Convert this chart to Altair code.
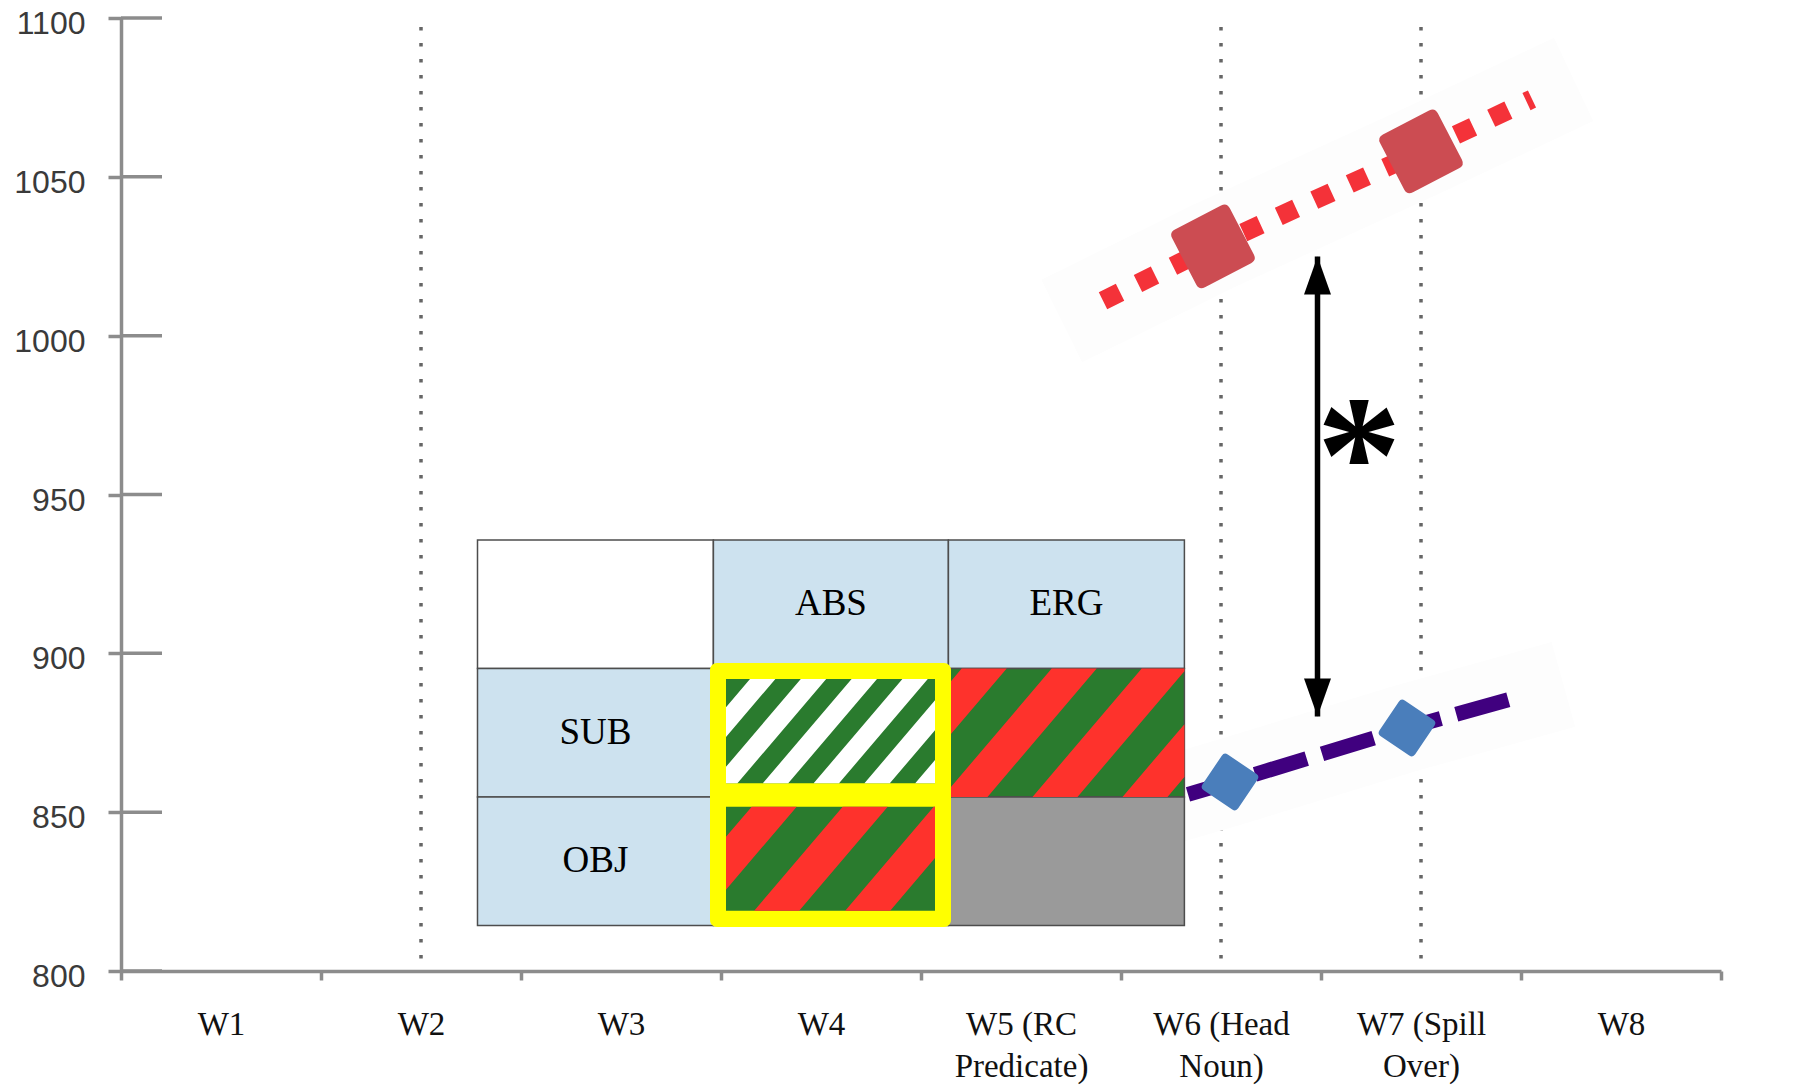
import altair as alt
import pandas as pd

# ---------------- data ----------------
WORDS = ["W1", "W2", "W3", "W4", "W5 (RC Predicate)", "W6 (Head Noun)", "W7 (Spill Over)", "W8"]
Y_TICKS = [800, 850, 900, 950, 1000, 1050, 1100]
DOTTED_AT = ["W2", "W6 (Head Noun)", "W7 (Spill Over)"]
DOTTED_TOP = 1097.2

# ERG condition (red): word position (1 = W1) and reading time (ms)
ERG_X = [5.41, 5.96, 7.0, 7.555]
ERG_Y = [1011.0, 1028.1, 1058.0, 1074.5]
ERG_MARK_X = [5.96, 7.0]
ERG_MARK_Y = [1028.1, 1058.0]

# ABS condition (blue / indigo)
ABS_X = [5.835, 6.045, 6.93, 7.5]
ABS_Y = [855.6, 859.5, 876.5, 886.5]
ABS_MARK_X = [6.045, 6.93]
ABS_MARK_Y = [859.5, 876.5]

ARROW_X = [6.4825]
ARROW_TOP = [1024.9]
ARROW_BOTTOM = [880.1]
STAR_TEXT = ["*"]
STAR_X = [6.69]
STAR_Y = [968.9]

TABLE_HEAD = ["", "ABS", "ERG"]
TABLE_ROWS = ["SUB", "OBJ"]
TABLE_X = [2.2825, 3.462, 4.637, 5.817]
TABLE_Y = [935.7, 895.2, 854.8, 814.3]
HIGHLIGHT_X = [3.445, 4.65]
HIGHLIGHT_Y = [813.85, 896.96]
INNER_X = [3.525, 4.57]
INNER_TOP_Y = [859.09, 891.93]
INNER_BOT_Y = [818.99, 851.73]

# ---------------- style ----------------
W, H = 1600, 953
XDOM = [0.5, 8.5]
YDOM = [800, 1100]
GRAY = "#8c8c8c"
LIGHTBLUE = "#cde2ef"
GREEN = "#2a7b2e"
RED = "#fe322c"
CELLGRAY = "#9a9a9a"
SLOPE = 1.175


def px(v):
    return (v - XDOM[0]) / (XDOM[1] - XDOM[0]) * W


def py(v):
    return (YDOM[1] - v) / (YDOM[1] - YDOM[0]) * H


def clip(poly, xmin, xmax, ymin, ymax):
    def clip_edge(pts, inside, inter):
        out = []
        for i in range(len(pts)):
            cur, prev = pts[i], pts[i - 1]
            if inside(cur):
                if not inside(prev):
                    out.append(inter(prev, cur))
                out.append(cur)
            elif inside(prev):
                out.append(inter(prev, cur))
        return out

    def ix(xc):
        return lambda p, q: (xc, p[1] + (q[1] - p[1]) * (xc - p[0]) / (q[0] - p[0]))

    def iy(yc):
        return lambda p, q: (p[0] + (q[0] - p[0]) * (yc - p[1]) / (q[1] - p[1]), yc)

    pts = poly
    for inside, inter in [
        (lambda p: p[0] >= xmin, ix(xmin)),
        (lambda p: p[0] <= xmax, ix(xmax)),
        (lambda p: p[1] >= ymin, iy(ymin)),
        (lambda p: p[1] <= ymax, iy(ymax)),
    ]:
        if not pts:
            break
        pts = clip_edge(pts, inside, inter)
    return pts


def stripe_path(x0, x1, y0, y1, period, width, phase):
    L, R = px(x0), px(x1)
    T, B = py(y1), py(y0)
    cx, cy = (L + R) / 2, (T + B) / 2
    run = (B - T) / SLOPE
    a = L + phase
    while a + width > L:
        a -= period
    parts = []
    while a - run < R:
        poly = [(a, T), (a + width, T), (a + width - run, B), (a - run, B)]
        c = clip(poly, L, R, T, B)
        if len(c) >= 3:
            s = "M" + " L".join("%.2f,%.2f" % (p[0] - cx, p[1] - cy) for p in c) + " Z"
            parts.append(s)
        a += period
    return " ".join(parts), (x0 + x1) / 2, (y0 + y1) / 2


ROUNDED_SQ = ("M-0.8,-1 L0.8,-1 Q1,-1 1,-0.8 L1,0.8 Q1,1 0.8,1 L-0.8,1 "
              "Q-1,1 -1,0.8 L-1,-0.8 Q-1,-1 -0.8,-1 Z")
HEAD_UP = "M0,0 L0.71,2 L-0.71,2 Z"
HEAD_DOWN = "M0,0 L0.71,-2 L-0.71,-2 Z"

xs = alt.Scale(domain=XDOM, nice=False, zero=False)
ys = alt.Scale(domain=YDOM, nice=False, zero=False)

yaxis = alt.Axis(values=Y_TICKS, format="d", title=None, grid=False, tickSize=13, tickWidth=3.5,
                 tickColor=GRAY, domainColor=GRAY, domainWidth=3.5,
                 labelFont="Liberation Sans", labelFontSize=32, labelColor="#3a3a3a",
                 labelPadding=23, labelOffset=5.5)

xaxis = alt.Axis(title=None, grid=False, tickBand="extent", tickSize=9, tickWidth=3.5,
                 tickColor=GRAY, domainColor=GRAY, domainWidth=3.5, labelAngle=0,
                 labelFont="Liberation Serif", labelFontSize=33, labelColor="#111111",
                 labelPadding=28, labelLineHeight=42, labelOverlap=False,
                 labelExpr="lastindexof(datum.label, ' ') > 2 ? "
                           "[substring(datum.label, 0, lastindexof(datum.label, ' ')), "
                           "substring(datum.label, lastindexof(datum.label, ' ') + 1)] : datum.label")


def X(f):
    return alt.X(f, type="quantitative", scale=xs, axis=None)


def Y(f):
    return alt.Y(f, type="quantitative", scale=ys, axis=yaxis)


# ---- dotted vertical guides (band scale, carries the x axis) ----
dot_df = pd.DataFrame({"word": DOTTED_AT, "top": DOTTED_TOP, "bot": YDOM[0]})
dotted = alt.Chart(dot_df).mark_rule(color="#666666", strokeWidth=3.5, strokeDash=[3.5, 12.5]).encode(
    x=alt.X("word:N", sort=WORDS, scale=alt.Scale(domain=WORDS, paddingInner=0, paddingOuter=0), axis=xaxis),
    y=Y("top"), y2="bot")

layers = []

# right-hand part of the y ticks
tick_df = pd.DataFrame({"v": Y_TICKS})
layers.append(alt.Chart(tick_df).mark_rule(color=GRAY, strokeWidth=3.5).encode(
    y=Y("v"), x=alt.value(0), x2=alt.value(41)))

erg_df = pd.DataFrame({"x": ERG_X, "y": ERG_Y})
abs_df = pd.DataFrame({"x": ABS_X, "y": ABS_Y})

# faint halo behind the lines
for d, wdt in [(erg_df, 92), (abs_df, 88)]:
    layers.append(alt.Chart(d).mark_line(color="#fdfdfd", strokeWidth=wdt, strokeCap="square").encode(
        x=X("x"), y=Y("y")))

# table cells
fills = [["#ffffff", LIGHTBLUE, LIGHTBLUE],
         [LIGHTBLUE, GREEN, GREEN],
         [LIGHTBLUE, GREEN, CELLGRAY]]
texts = [TABLE_HEAD, [TABLE_ROWS[0], "", ""], [TABLE_ROWS[1], "", ""]]
recs = []
for r in range(3):
    for c in range(3):
        recs.append({"x": TABLE_X[c], "x2": TABLE_X[c + 1], "y": TABLE_Y[r], "y2": TABLE_Y[r + 1],
                     "xc": (TABLE_X[c] + TABLE_X[c + 1]) / 2, "yc": (TABLE_Y[r] + TABLE_Y[r + 1]) / 2,
                     "fill": fills[r][c], "label": texts[r][c]})
cells = pd.DataFrame(recs)
layers.append(alt.Chart(cells).mark_rect(stroke="#4d4d4d", strokeWidth=1.5).encode(
    x=X("x"), x2="x2", y=Y("y"), y2="y2", fill=alt.Fill("fill:N", scale=None)))
layers.append(alt.Chart(cells[cells["label"] != ""]).mark_text(
    font="Liberation Serif", fontSize=37, color="black", align="center", baseline="middle").encode(
    x=X("xc"), y=Y("yc"), text="label:N"))


def stripes(x0, x1, y0, y1, period, width, phase, color):
    path, cxv, cyv = stripe_path(x0, x1, y0, y1, period, width, phase)
    d = pd.DataFrame({"x": [cxv], "y": [cyv]})
    return alt.Chart(d).mark_point(shape=path, size=4, filled=True, color=color, opacity=1,
                                   strokeWidth=0).encode(x=X("x"), y=Y("y"))


# SUB / ERG cell stripes
layers.append(stripes(TABLE_X[2], TABLE_X[3], TABLE_Y[2], TABLE_Y[1], 90, 45, 103.3, RED))

# yellow highlight of the ABS column
hl = pd.DataFrame({"x": [HIGHLIGHT_X[0]], "x2": [HIGHLIGHT_X[1]], "y": [HIGHLIGHT_Y[0]], "y2": [HIGHLIGHT_Y[1]]})
layers.append(alt.Chart(hl).mark_rect(color="#ffff00", cornerRadius=7).encode(
    x=X("x"), x2="x2", y=Y("y"), y2="y2"))
inner = pd.DataFrame({"x": [INNER_X[0]] * 2, "x2": [INNER_X[1]] * 2,
                      "y": [INNER_TOP_Y[0], INNER_BOT_Y[0]], "y2": [INNER_TOP_Y[1], INNER_BOT_Y[1]]})
layers.append(alt.Chart(inner).mark_rect(color=GREEN).encode(x=X("x"), x2="x2", y=Y("y"), y2="y2"))
layers.append(stripes(INNER_X[0], INNER_X[1], INNER_TOP_Y[0], INNER_TOP_Y[1], 50.8, 25.4, 24, "#ffffff"))
layers.append(stripes(INNER_X[0], INNER_X[1], INNER_BOT_Y[0], INNER_BOT_Y[1], 91, 45, 25.7, RED))

# dashed series lines
layers.append(alt.Chart(erg_df).mark_line(color="#f43239", strokeWidth=19, strokeDash=[19, 20],
                                          strokeCap="butt").encode(x=X("x"), y=Y("y")))
layers.append(alt.Chart(abs_df).mark_line(color="#40007f", strokeWidth=15, strokeDash=[54, 16],
                                          strokeCap="butt").encode(x=X("x"), y=Y("y")))

# markers
layers.append(alt.Chart(pd.DataFrame({"x": ERG_MARK_X, "y": ERG_MARK_Y})).mark_point(
    shape=ROUNDED_SQ, size=65 ** 2, angle=62.5, filled=True, color="#cc4c52", opacity=1, strokeWidth=0).encode(
    x=X("x"), y=Y("y")))
layers.append(alt.Chart(pd.DataFrame({"x": ABS_MARK_X, "y": ABS_MARK_Y})).mark_point(
    shape=ROUNDED_SQ, size=43 ** 2, angle=34, filled=True, color="#4a7ebb", opacity=1, strokeWidth=0).encode(
    x=X("x"), y=Y("y")))

# double arrow and significance star
arr = pd.DataFrame({"x": ARROW_X, "top": ARROW_TOP, "bot": ARROW_BOTTOM})
layers.append(alt.Chart(arr).mark_rule(color="black", strokeWidth=5.5).encode(
    x=X("x"), y=Y("top"), y2="bot"))
layers.append(alt.Chart(arr).mark_point(shape=HEAD_UP, size=1444, filled=True, color="black",
                                        opacity=1, strokeWidth=0).encode(x=X("x"), y=Y("top")))
layers.append(alt.Chart(arr).mark_point(shape=HEAD_DOWN, size=1444, filled=True, color="black",
                                        opacity=1, strokeWidth=0).encode(x=X("x"), y=Y("bot")))
star = pd.DataFrame({"x": STAR_X, "y": STAR_Y, "t": STAR_TEXT})
layers.append(alt.Chart(star).mark_text(font="Liberation Serif", fontWeight="bold", fontSize=170,
                                        color="black", align="center", baseline="middle", dy=27).encode(
    x=X("x"), y=Y("y"), text="t:N"))

chart = alt.layer(dotted, alt.layer(*layers)).resolve_scale(x="independent").properties(
    width=W, height=H,
    autosize=alt.AutoSizeParams(type="none"),
    padding={"left": 113, "top": 10, "right": 20, "bottom": 116},
    background="white",
).configure_view(strokeWidth=0)

chart.save("out.html", embed_options={"renderer": "svg", "actions": False})
